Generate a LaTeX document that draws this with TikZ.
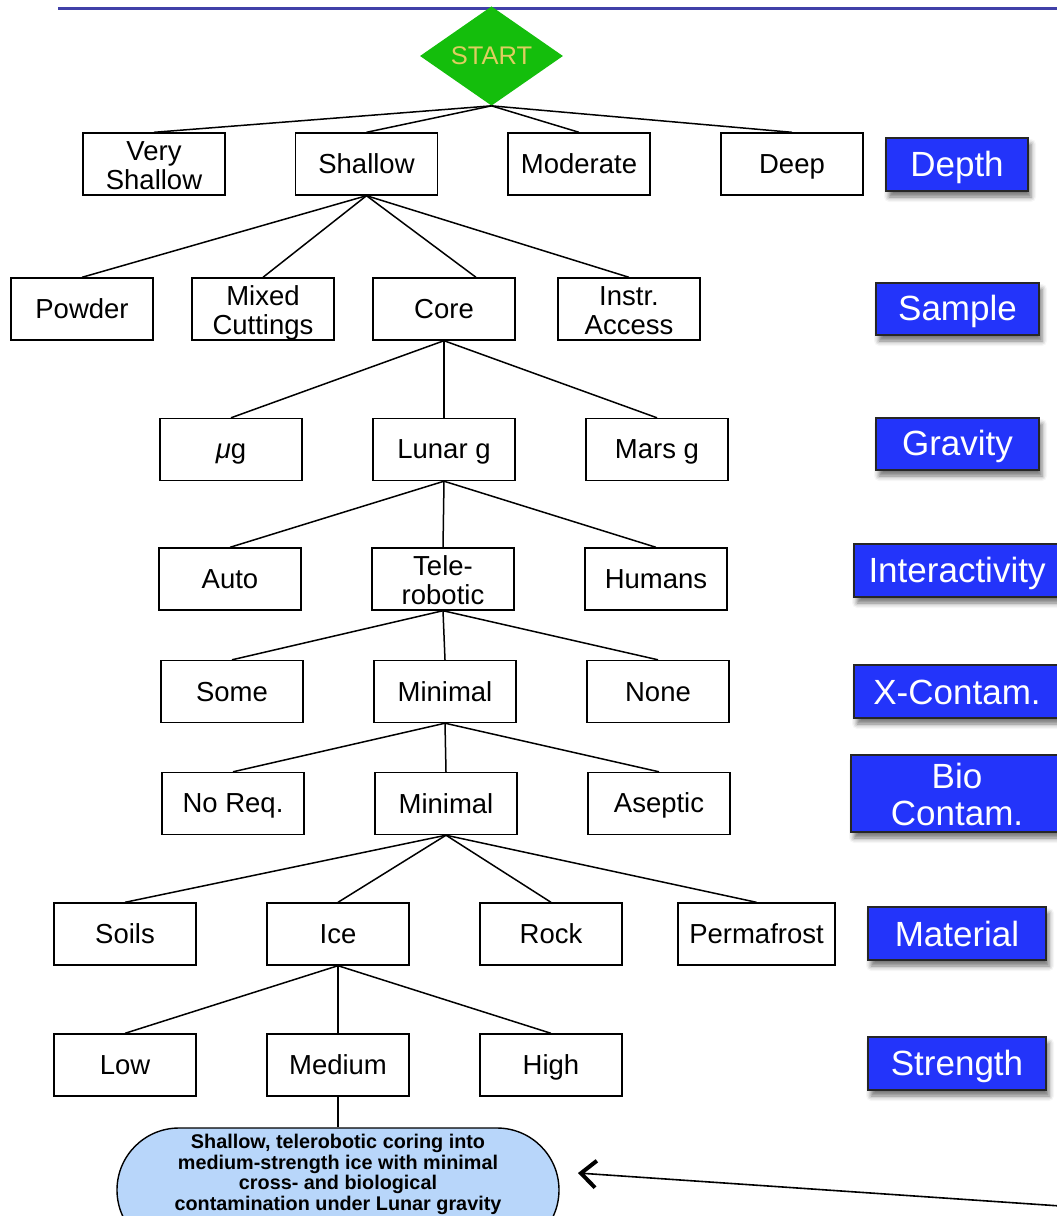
\documentclass[tikz,border=0pt]{standalone}
\usepackage{fontspec}
\setmainfont{Liberation Sans}
\usetikzlibrary{shapes.geometric,shapes.misc,shadows.blur,arrows.meta,calc}
\definecolor{topline}{RGB}{64,64,168}
\definecolor{startgreen}{RGB}{20,190,12}
\definecolor{starttext}{RGB}{222,206,96}
\definecolor{labelblue}{RGB}{35,52,250}
\definecolor{resultblue}{RGB}{184,214,250}
\newcommand\boxstrut{\rule[-4.3pt]{0pt}{28.3pt}}
\newcommand\labstrut{\rule[-5.5pt]{0pt}{36.5pt}}
\tikzset{
  box/.style={draw=black, line width=1.4pt, minimum width=142pt, minimum height=62pt,
    inner sep=0pt, align=center, font=\fontsize{27.5}{29}\selectfont,
    execute at begin node=\boxstrut, execute at end node=\boxstrut},
  twoline/.style={text height=56.85pt, text depth=5.15pt},
  twolinelab/.style={text height=70pt, text depth=6pt},
  catlabel/.style={fill=labelblue, draw=black!85, line width=1.6pt, text=white,
    inner sep=0pt, align=center, font=\fontsize{35}{37}\selectfont,
    execute at begin node=\labstrut, execute at end node=\labstrut,
    blur shadow={shadow xshift=3pt, shadow yshift=-6pt, shadow blur radius=5pt, shadow opacity=55}},
  edge/.style={draw=black, line width=1.5pt},
  startnode/.style={diamond, fill=startgreen, minimum width=143pt, minimum height=92pt,
    inner sep=0pt, text=starttext, font=\fontsize{25.5}{27}\selectfont},
  resultnode/.style={rounded rectangle, draw=black, line width=1.4pt, fill=resultblue,
    minimum width=442pt, minimum height=124pt, inner sep=0pt},
  resulttext/.style={align=center, font=\bfseries\fontsize{19.8}{20.6}\selectfont, inner sep=0pt}
}
\begin{document}
\begin{tikzpicture}[x=1pt,y=-1pt]
\useasboundingbox (0,0) rectangle (1057,1216);
\clip (0,0) rectangle (1057,1216);
\draw[topline, line width=3pt] (58,8) -- (1057,8);

\node[startnode] (start) at (491.5,56) {START};

% Depth
\node[box, twoline] (vs) at (154,164) {Very\\Shallow};
\node[box] (sh) at (366.5,164) {Shallow};
\node[box] (mo) at (579,164) {Moderate};
\node[box] (de) at (792,164) {Deep};
% Sample
\node[box] (po) at (82,309) {Powder};
\node[box, twoline] (mc) at (263,309) {Mixed\\Cuttings};
\node[box] (co) at (444,309) {Core};
\node[box, twoline] (ia) at (629,309) {Instr.\\Access};
% Gravity
\node[box] (mg) at (231,449.5) {\textit{μ}g};
\node[box] (lg) at (444,449.5) {Lunar g};
\node[box] (ma) at (657,449.5) {Mars g};
% Interactivity
\node[box] (au) at (230,579) {Auto};
\node[box, twoline] (te) at (443,579) {Tele-\\robotic};
\node[box] (hu) at (656,579) {Humans};
% X-Contam
\node[box] (so) at (232,691.5) {Some};
\node[box] (xm) at (445,691.5) {Minimal};
\node[box] (no) at (658,691.5) {None};
% Bio
\node[box] (nr) at (233,803.5) {No Req.};
\node[box] (bm) at (446,803.5) {Minimal};
\node[box] (as) at (659,803.5) {Aseptic};
% Material
\node[box] (si) at (125,934) {Soils};
\node[box] (ic) at (338,934) {Ice};
\node[box] (ro) at (551,934) {Rock};
\node[box, minimum width=157pt] (pf) at (756.5,934) {Permafrost};
% Strength
\node[box] (lo) at (125,1065) {Low};
\node[box] (me) at (338,1065) {Medium};
\node[box] (hi) at (551,1065) {High};

% result
\node[resultnode] (res) at (338,1190) {};
\node[resulttext] (restext) at (338,1174.5) {Shallow, telerobotic coring into\\medium-strength ice with minimal\\cross- and biological\\contamination under Lunar gravity};

% category labels
\node[catlabel, minimum width=142pt, minimum height=53pt] (lDepth) at (957,164.5) {Depth};
\node[catlabel, minimum width=163pt, minimum height=52pt] (lSample) at (957.5,309) {Sample};
\node[catlabel, minimum width=163pt, minimum height=52pt] (lGravity) at (957.5,444) {Gravity};
\node[catlabel, minimum width=206pt, minimum height=53pt] (lInter) at (957,570.5) {Interactivity};
\node[catlabel, minimum width=206pt, minimum height=53pt] (lX) at (957,691.5) {X-Contam.};
\node[catlabel, twolinelab, minimum width=212pt, minimum height=77pt] (lBio) at (957,793.5) {Bio\\Contam.};
\node[catlabel, minimum width=178pt, minimum height=53pt] (lMat) at (957,933.5) {Material};
\node[catlabel, minimum width=178pt, minimum height=53pt] (lStr) at (957,1063.5) {Strength};

% edges
\foreach \c in {vs,sh,mo,de} \draw[edge] (start.south) -- (\c.north);
\foreach \c in {po,mc,ia} \draw[edge] (sh.south) -- (\c.north);
\draw[edge] (sh.south) -- ([xshift=32pt]co.north);
\foreach \c in {mg,lg,ma} \draw[edge] (co.south) -- (\c.north);
\foreach \c in {au,te,hu} \draw[edge] (lg.south) -- (\c.north);
\foreach \c in {so,xm,no} \draw[edge] (te.south) -- (\c.north);
\foreach \c in {nr,bm,as} \draw[edge] (xm.south) -- (\c.north);
\foreach \c in {si,ic,ro,pf} \draw[edge] (bm.south) -- (\c.north);
\foreach \c in {lo,me,hi} \draw[edge] (ic.south) -- (\c.north);
\draw[edge] (me.south) -- (res.north);

% arrow
\coordinate (arrsrc) at (1090,1208);
\coordinate (arrtip) at (578,1173);
\draw[line width=1.6pt, -{Straight Barb[length=15pt,width=27pt,line width=4pt]}] (arrsrc) -- (arrtip);
\end{tikzpicture}
\end{document}
